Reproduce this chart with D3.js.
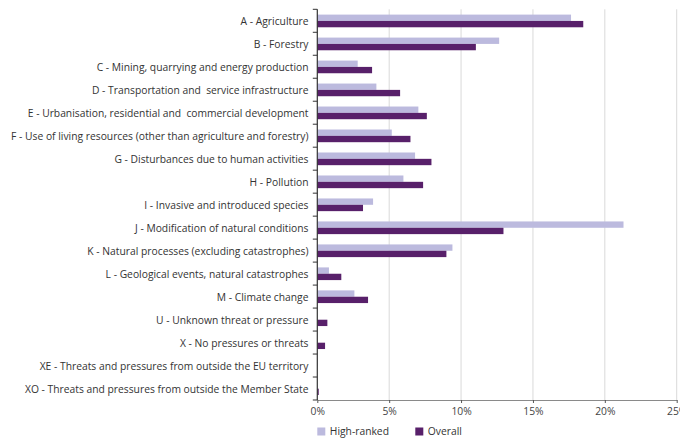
<!DOCTYPE html>
<html>
<head>
<meta charset="utf-8">
<script src="https://cdn.jsdelivr.net/npm/d3@7"></script>
<style>
  html, body { margin: 0; padding: 0; background: #fff; }
  svg { display: block; font-family: "Open Sans", "Noto Sans", sans-serif; }
  text { white-space: pre; }
</style>
</head>
<body>
<svg id="chart" width="680" height="439"></svg>
<script>
const categories = [
  "A - Agriculture",
  "B - Forestry",
  "C - Mining, quarrying and energy production",
  "D - Transportation and  service infrastructure",
  "E - Urbanisation, residential and  commercial development",
  "F - Use of living resources (other than agriculture and forestry)",
  "G - Disturbances due to human activities",
  "H - Pollution",
  "I - Invasive and introduced species",
  "J - Modification of natural conditions",
  "K - Natural processes (excluding catastrophes)",
  "L - Geological events, natural catastrophes",
  "M - Climate change",
  "U - Unknown threat or pressure",
  "X - No pressures or threats",
  "XE - Threats and pressures from outside the EU territory",
  "XO - Threats and pressures from outside the Member State"
];
const highRanked = [17.65, 12.65, 2.81, 4.11, 7.03, 5.18, 6.80, 5.99, 3.88, 21.3, 9.40, 0.81, 2.58, 0, 0, 0.03, 0];
const overall    = [18.5, 11.03, 3.81, 5.76, 7.62, 6.48, 7.94, 7.36, 3.18, 12.95, 8.98, 1.67, 3.53, 0.70, 0.54, 0, 0.10];
const seriesNames = ["High-ranked", "Overall"];
const seriesColors = ["#bcbade", "#58206a"];
const xTicks = [0, 5, 10, 15, 20, 25];

const svg = d3.select("#chart");
const mLeft = 317.3, mRight = 676.7, mTop = 9.3, mBottom = 400;
const fs = 10.3;

const x = d3.scaleLinear().domain([0, 25]).range([mLeft, mRight]);
const y = d3.scaleBand().domain(categories).range([mTop, mBottom]).padding(0);
const inner = d3.scaleBand().domain(seriesNames)
  .range([5.3, y.bandwidth() - 5.0]).padding(0);

// gridlines
svg.append("g").selectAll("line").data(xTicks.slice(1)).join("line")
  .attr("x1", d => x(d)).attr("x2", d => x(d))
  .attr("y1", mTop).attr("y2", mBottom)
  .attr("stroke", "#d9d9d9").attr("stroke-width", 1);

// bars
const data = categories.map((c, i) => ({ cat: c, vals: [highRanked[i], overall[i]] }));
const groups = svg.append("g").selectAll("g").data(data).join("g")
  .attr("transform", d => `translate(0,${y(d.cat)})`);
groups.selectAll("rect")
  .data(d => d.vals.map((v, j) => ({ v, s: seriesNames[j], j })))
  .join("rect")
  .attr("x", x(0))
  .attr("y", d => inner(d.s))
  .attr("width", d => Math.max(0, x(d.v) - x(0)))
  .attr("height", inner.bandwidth())
  .attr("fill", d => seriesColors[d.j]);

// bottom axis
const xAxis = d3.axisBottom(x).tickValues(xTicks).tickFormat(d => d + "%").tickSize(3).tickSizeOuter(0);
const gx = svg.append("g").attr("transform", `translate(0,${mBottom})`).call(xAxis);
gx.select(".domain").attr("stroke", "#8a8a8a").attr("stroke-width", 1.2);
gx.selectAll(".tick line").attr("stroke", "#555");
gx.selectAll(".tick text").attr("font-size", fs).attr("fill", "#444").attr("dy", "0.9em")
  .attr("font-family", "'Open Sans', sans-serif");

// left axis: ticks at category boundaries
const gy = svg.append("g");
gy.append("line").attr("x1", mLeft).attr("x2", mLeft).attr("y1", mTop).attr("y2", mBottom)
  .attr("stroke", "#333").attr("stroke-width", 1.2);
const bounds = categories.map(c => y(c)).concat([mBottom]);
gy.selectAll("line.t").data(bounds).join("line").attr("class", "t")
  .attr("x1", mLeft - 4.5).attr("x2", mLeft).attr("y1", d => d).attr("y2", d => d)
  .attr("stroke", "#333").attr("stroke-width", 1);
gy.selectAll("text").data(categories).join("text")
  .attr("x", 308.5).attr("y", d => y(d) + y.bandwidth() / 2 + 0.5)
  .attr("dy", "0.35em").attr("text-anchor", "end")
  .attr("font-size", fs).attr("fill", "#333")
  .text(d => d);

// legend
const legendX = [317.3, 415.3];
const lg = svg.append("g").selectAll("g").data(seriesNames).join("g")
  .attr("transform", (d, i) => `translate(${legendX[i]},427.5)`);
lg.append("rect").attr("width", 8).attr("height", 8).attr("fill", (d, i) => seriesColors[i]);
lg.append("text").attr("x", 12.5).attr("y", 4).attr("dy", "0.35em")
  .attr("font-size", fs).attr("fill", "#333").text(d => d);
</script>
</body>
</html>
